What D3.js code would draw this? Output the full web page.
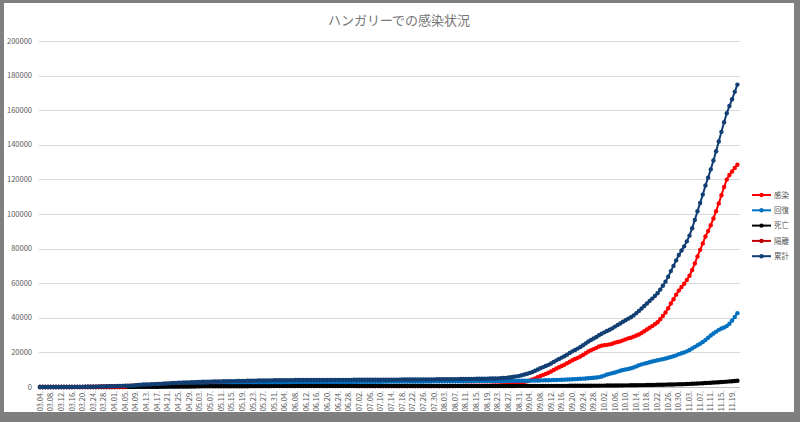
<!DOCTYPE html>
<html><head><meta charset="utf-8">
<script src="https://cdn.jsdelivr.net/npm/d3@7"></script>
<style>
html,body{margin:0;padding:0;background:#7f7f7f;}
svg{display:block;}
</style></head><body>
<svg id="chart" width="800" height="422"></svg>
<script>
const chartTitle = "ハンガリーでの感染状況";
const seriesNames = ["感染", "回復", "死亡", "隔離", "累計"];
const seriesColors = ["#ff0000", "#0070c0", "#000000", "#c00000", "#123f73"];
const yTicks = [0, 20000, 40000, 60000, 80000, 100000, 120000, 140000, 160000, 180000, 200000];
const firstDay = new Date(2020, 2, 4);
const lastDay = new Date(2020, 10, 21);

// 感染 (active)
const active = [
2,2,4,7,7,9,12,13,16,18,29,30,37,47,55,68,79,92,109,144,162,195,223,256,298,361,395,439,
462,511,533,582,633,630,689,757,829,1025,1111,1187,1205,1237,1278,1324,1415,1446,1510,1551,1634,1681,1744,1811,1846,1827,1854,1847,1859,1826,
1840,1857,1891,1929,1951,1925,1894,1866,1830,1804,1797,1771,1746,1713,1659,1647,1635,1631,1610,1555,1554,1557,1548,1533,1481,1454,1434,1408,1386,1363,1346,
1301,1277,1263,1230,1212,1186,1161,1142,1105,1081,1054,1027,999,973,948,923,898,869,841,823,803,779,758,739,717,694,676,657,640,629,
614,605,593,588,580,579,569,561,552,549,541,538,532,536,537,533,541,547,550,552,556,557,552,550,557,562,562,563,569,566,584,
582,582,591,603,614,619,623,624,648,662,685,699,714,723,736,749,757,777,806,820,845,863,903,993,1081,1168,1305,1491,1727,1961,2243,
2572,2945,3367,3834,4352,4970,5684,6347,7004,7561,8214,8967,9815,10662,11409,12145,12880,13705,14629,15442,16155,16857,17658,18549,19538,20507,21265,21904,22622,23411,
23899,24185,24371,24655,25038,25623,26007,26389,26971,27552,28132,28511,29090,29766,30343,31218,32191,33264,34236,35206,36273,37440,39204,41069,43031,45495,48257,50719,53376,55733,57790,
59640,61875,64305,67630,71350,75470,79290,83005,87015,90125,93530,97435,101635,106130,110820,115610,119895,122575,124555,126630,128500
];

// 回復 (recovered)
const recovered = [
0,0,0,0,0,0,0,0,0,1,1,1,1,2,2,2,2,7,16,16,16,21,28,34,34,34,37,37,
43,48,58,62,62,67,70,72,74,80,100,114,131,141,159,172,176,199,207,220,239,248,278,300,317,382,405,436,482,589,
606,666,700,706,711,770,826,879,935,988,1042,1083,1131,1186,1273,1319,1376,1411,1455,1528,1568,1602,1646,1689,1769,1808,1845,1886,1925,1969,2008,
2055,2091,2132,2174,2212,2250,2290,2324,2363,2397,2432,2467,2499,2532,2560,2589,2616,2644,2672,2701,2727,2755,2781,2806,2829,2854,2878,2899,2918,2938,
2955,2972,2990,3005,3019,3033,3045,3057,3068,3078,3089,3098,3108,3117,3126,3135,3143,3151,3160,3168,3177,3186,3195,3204,3213,3222,3231,3240,3249,3258,3267,
3276,3285,3294,3303,3312,3321,3330,3339,3348,3357,3366,3375,3384,3393,3402,3411,3420,3430,3440,3450,3461,3472,3483,3494,3505,3517,3529,3541,3553,3566,3580,
3600,3625,3650,3680,3710,3740,3775,3810,3850,3890,3935,3980,4030,4080,4130,4190,4250,4320,4390,4470,4550,4640,4730,4830,4930,5050,5180,5330,5500,5700,
6100,6600,7200,7600,8000,8400,8900,9400,9800,10100,10400,10800,11300,11900,12600,13100,13500,13900,14300,14700,15100,15500,15800,16100,16500,16900,17300,17800,18300,19000,19500,
20000,20600,21400,22300,23200,24100,25000,26000,27200,28500,29800,30900,32000,33000,33800,34400,35200,36600,38400,40500,42700
];

// 死亡 (deaths)
const deaths = [
0,0,0,0,0,0,0,0,0,0,0,1,1,1,1,3,4,4,6,7,9,10,10,10,11,13,15,16,
20,26,32,34,38,47,58,66,77,85,99,109,122,134,142,156,172,189,199,213,225,239,262,272,280,291,300,300,308,312,
329,340,351,363,373,383,392,405,413,421,424,430,436,442,448,451,462,467,470,473,476,482,484,491,491,491,492,499,505,509,513,
520,524,526,527,530,534,539,542,546,549,553,554,555,559,561,563,563,565,568,570,572,573,575,578,581,583,585,586,587,588,
588,589,589,590,590,591,591,592,592,593,593,593,594,594,594,595,595,595,595,595,596,596,596,596,596,596,596,597,597,597,597,
598,598,599,599,600,600,600,601,601,602,602,603,603,604,604,605,605,606,607,609,610,611,612,613,614,615,616,618,620,623,627,
628,630,633,636,638,640,641,643,646,649,651,653,655,658,661,665,670,675,681,688,695,703,712,721,732,743,755,766,778,789,
801,815,829,845,862,877,893,911,929,948,968,989,1010,1034,1057,1082,1109,1136,1164,1194,1227,1260,1296,1331,1369,1405,1443,1481,1524,1567,1610,
1660,1725,1795,1870,1950,2030,2110,2195,2285,2375,2470,2565,2665,2770,2880,2990,3105,3225,3345,3470,3600
];

// 隔離 (isolation) – only reported at the start
const isolated = [
0,0,0,0,0,0,0,0,0,0,0,0,0,0,0,0,0,0,0,0,0,0,0,0,0,0,0,0,0,0,0,0,0
];

// 累計 (cumulative total)
const total = [
2,2,4,7,7,9,12,13,16,19,30,32,39,50,58,73,85,103,131,167,187,226,261,300,343,408,447,492,
525,585,623,678,733,744,817,895,980,1190,1310,1410,1458,1512,1579,1652,1763,1834,1916,1984,2098,2168,2284,2383,2443,2500,2559,2583,2649,2727,
2775,2863,2942,2998,3035,3078,3112,3150,3178,3213,3263,3284,3313,3341,3380,3417,3473,3509,3535,3556,3598,3641,3678,3713,3741,3753,3771,3793,3816,3841,3867,
3876,3892,3921,3931,3954,3970,3990,4008,4014,4027,4039,4048,4053,4064,4069,4075,4077,4078,4081,4094,4102,4107,4114,4123,4127,4131,4139,4142,4145,4155,
4157,4166,4172,4183,4189,4203,4205,4210,4212,4220,4223,4229,4234,4247,4257,4263,4279,4293,4305,4315,4329,4339,4343,4350,4366,4380,4389,4400,4415,4421,4448,
4456,4465,4484,4505,4526,4540,4553,4564,4597,4621,4653,4677,4701,4720,4742,4765,4782,4813,4853,4879,4916,4946,4998,5100,5200,5300,5450,5650,5900,6150,6450,
6800,7200,7650,8150,8700,9350,10100,10800,11500,12100,12800,13600,14500,15400,16200,17000,17800,18700,19700,20600,21400,22200,23100,24100,25200,26300,27200,28000,28900,29900,
30800,31600,32400,33100,33900,34900,35800,36700,37700,38600,39500,40300,41400,42700,44000,45400,46800,48300,49700,51100,52600,54200,56300,58500,60900,63800,67000,70000,73200,76300,78900,
81300,84200,87500,91800,96500,101600,106400,111200,116500,121000,125800,130900,136300,141900,147500,153000,158200,162400,166300,170600,174800
];

const seriesValues = [active, recovered, deaths, isolated, total];
const fmt = d3.timeFormat("%m.%d.");
const categories = d3.timeDay.range(firstDay, d3.timeDay.offset(lastDay, 1)).map(fmt);
const xTickLabels = categories.filter((c, i) => i % 4 === 0);

const svg = d3.select("#chart");
const font = "'Noto Sans CJK JP', 'Noto Sans', sans-serif";

svg.append("rect").attr("x", 0).attr("y", 0).attr("width", 800).attr("height", 422).attr("fill", "#7f7f7f");
svg.append("rect").attr("x", 4).attr("y", 3).attr("width", 790).attr("height", 409).attr("fill", "#ffffff");

const x = d3.scalePoint().domain(categories).range([40, 737.4]);
const y = d3.scaleLinear().domain([0, 200000]).range([387, 41]);
const plotL = 39, plotR = 740;

// gridlines
svg.append("g").selectAll("line").data(yTicks).join("line")
  .attr("x1", plotL).attr("x2", plotR)
  .attr("y1", d => Math.round(y(d)) + 0.5).attr("y2", d => Math.round(y(d)) + 0.5)
  .attr("stroke", d => d === 0 ? "#bfbfbf" : "#d9d9d9").attr("stroke-width", 1);

// y labels
svg.append("g").selectAll("text").data(yTicks).join("text")
  .attr("x", 32).attr("y", d => y(d)).attr("dy", "0.35em")
  .attr("text-anchor", "end").attr("font-family", font).attr("font-size", "7.5px")
  .attr("fill", "#595959").text(d => d);

// x labels
svg.append("g").selectAll("text").data(xTickLabels).join("text")
  .attr("transform", d => `translate(${x(d)},391) rotate(-90)`)
  .attr("dy", "0.35em").attr("text-anchor", "end")
  .attr("font-family", font).attr("font-size", "7.3px").attr("fill", "#595959")
  .text(d => d);

// series
const line = d3.line().defined(d => d != null).x(d => x(d.c)).y(d => y(d.v));
seriesValues.forEach((vals, k) => {
  const pts = vals.map((v, i) => ({ c: categories[i], v: v })).filter(p => p.c !== undefined);
  const g = svg.append("g");
  g.append("path").datum(pts).attr("d", line)
    .attr("fill", "none").attr("stroke", seriesColors[k]).attr("stroke-width", 2)
    .attr("stroke-linejoin", "round");
  g.selectAll("circle").data(pts).join("circle")
    .attr("cx", d => x(d.c)).attr("cy", d => y(d.v)).attr("r", 2.2)
    .attr("fill", seriesColors[k]);
});

// legend
const lg = svg.append("g");
seriesNames.forEach((name, k) => {
  const ly = 195 + k * 15.3;
  lg.append("line").attr("x1", 752).attr("x2", 771).attr("y1", ly).attr("y2", ly)
    .attr("stroke", seriesColors[k]).attr("stroke-width", 2);
  lg.append("circle").attr("cx", 761.5).attr("cy", ly).attr("r", 2.2).attr("fill", seriesColors[k]);
  lg.append("text").attr("x", 774).attr("y", ly).attr("dy", "0.35em")
    .attr("font-family", font).attr("font-size", "7.5px").attr("fill", "#595959").text(name);
});

// title
svg.append("text").attr("x", 399).attr("y", 20).attr("dy", "0.35em")
  .attr("text-anchor", "middle").attr("font-family", font).attr("font-size", "13px")
  .attr("fill", "#767676").text(chartTitle);
</script>
</body></html>
